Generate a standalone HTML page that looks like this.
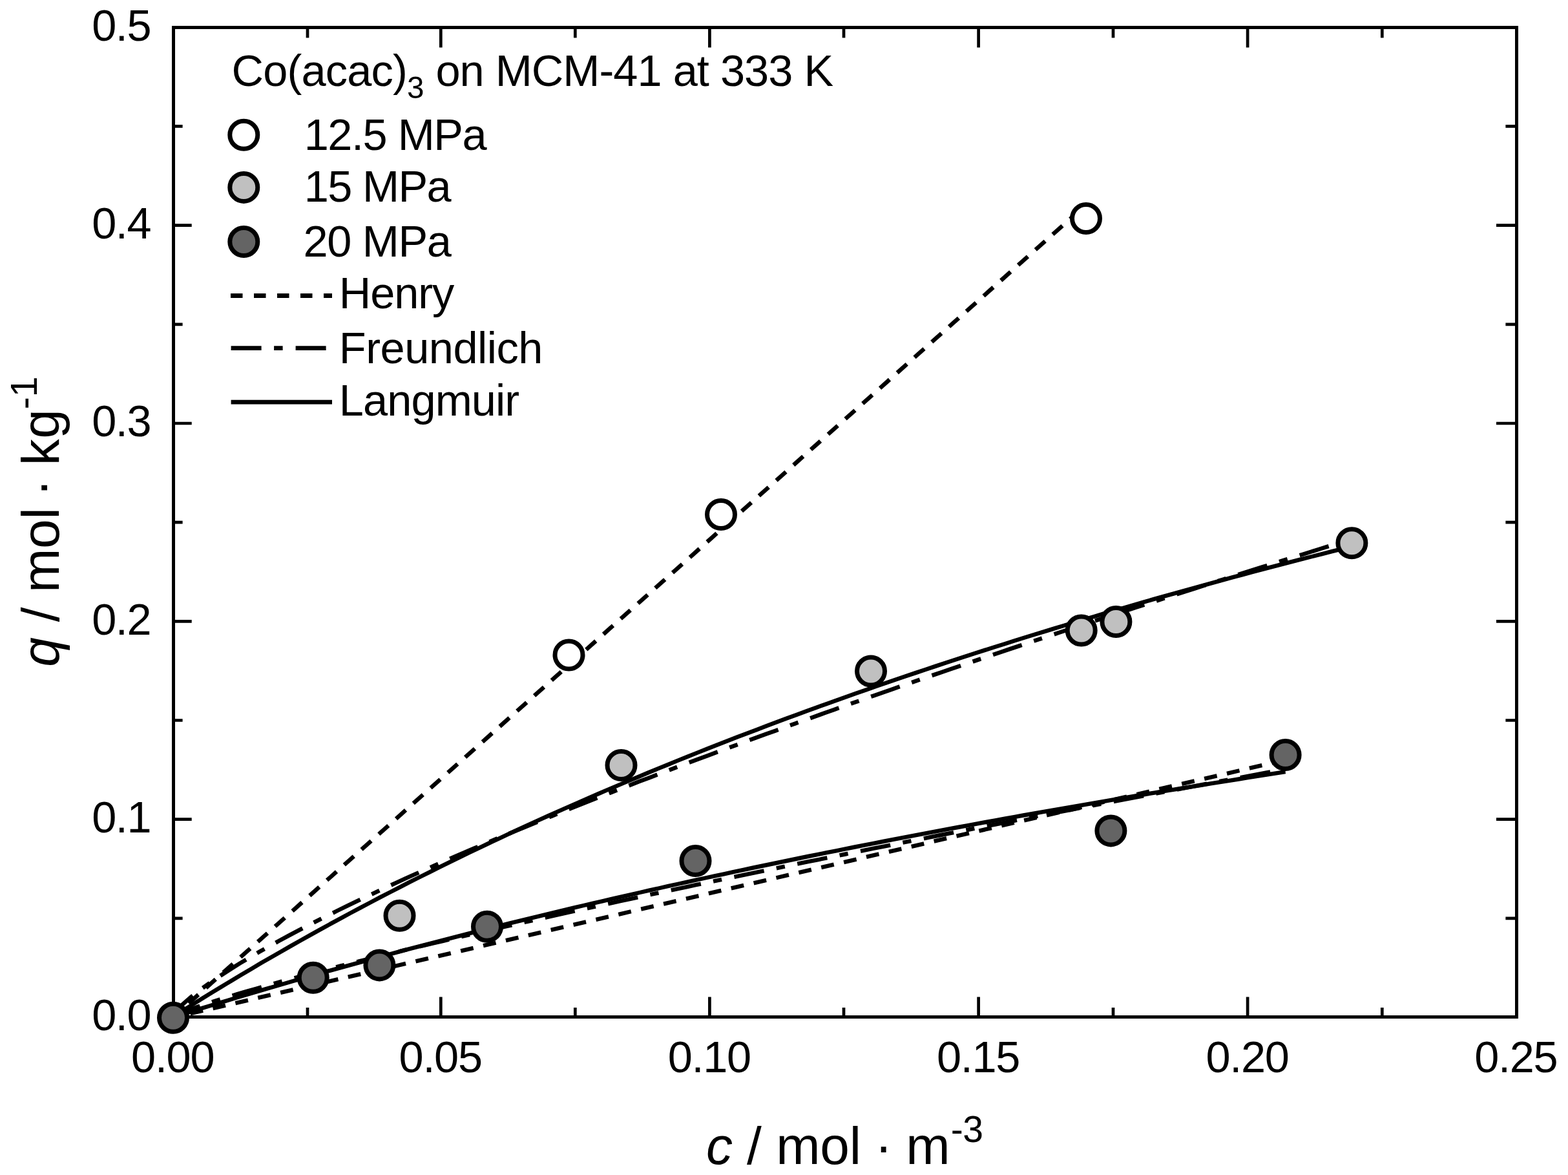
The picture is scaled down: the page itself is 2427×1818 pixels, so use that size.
<!DOCTYPE html>
<html><head><meta charset="utf-8"><title>Co(acac)3 adsorption isotherms on MCM-41</title><style>html,body{margin:0;padding:0;background:#fff;overflow:hidden}svg{display:block}</style></head><body>
<svg width="2427" height="1818" viewBox="0 0 2427 1818">
<rect x="0" y="0" width="2427" height="1818" fill="#fff"/>
<path d="M682.3 1573.5V1542.5 M682.3 42.5V73.5 M1098.4 1573.5V1542.5 M1098.4 42.5V73.5 M1514.6 1573.5V1542.5 M1514.6 42.5V73.5 M1931.1 1573.5V1542.5 M1931.1 42.5V73.5 M476.0 1573.5V1559.0 M476.0 42.5V58.4 M890.3 1573.5V1559.0 M890.3 42.5V58.4 M1306.0 1573.5V1559.0 M1306.0 42.5V58.4 M1723.0 1573.5V1559.0 M1723.0 42.5V58.4 M2139.3 1573.5V1559.0 M2139.3 42.5V58.4 M268.5 1267.7H296.7 M2347.5 1267.7H2316.0 M268.5 961.3H296.7 M2347.5 961.3H2316.0 M268.5 655.0H296.7 M2347.5 655.0H2316.0 M268.5 348.6H296.7 M2347.5 348.6H2316.0 M268.5 1420.8H282.6 M2347.5 1420.8H2330.4 M268.5 1114.5H282.6 M2347.5 1114.5H2330.4 M268.5 808.1H282.6 M2347.5 808.1H2330.4 M268.5 501.8H282.6 M2347.5 501.8H2330.4 M268.5 195.4H282.6 M2347.5 195.4H2330.4" stroke="#000" stroke-width="4.7" fill="none"/>
<g fill="none" stroke="#000" stroke-width="6.4" stroke-linejoin="round">
<line x1="266" y1="1575.5" x2="1681" y2="316.8" stroke-dasharray="20 15.8" stroke-dashoffset="0.9"/>
<polyline points="266.0,1574.5 281.3,1564.8 296.7,1555.1 312.0,1545.5 327.4,1536.1 342.7,1526.7 358.1,1517.4 373.4,1508.3 388.8,1499.2 404.1,1490.1 419.5,1481.2 434.8,1472.4 450.2,1463.6 465.5,1455.0 480.9,1446.4 496.2,1437.9 511.6,1429.4 526.9,1421.1 542.3,1412.8 557.6,1404.6 573.0,1396.5 588.3,1388.4 603.7,1380.5 619.0,1372.6 634.4,1364.7 649.7,1357.0 665.1,1349.3 680.4,1341.6 695.7,1334.1 711.1,1326.6 726.4,1319.2 741.8,1311.8 757.1,1304.5 772.5,1297.3 787.8,1290.1 803.2,1283.0 818.5,1275.9 833.9,1268.9 849.2,1262.0 864.6,1255.1 879.9,1248.3 895.3,1241.6 910.6,1234.9 926.0,1228.2 941.3,1221.6 956.7,1215.1 972.0,1208.6 987.4,1202.2 1002.7,1195.8 1018.1,1189.4 1033.4,1183.2 1048.8,1176.9 1064.1,1170.8 1079.4,1164.6 1094.8,1158.6 1110.1,1152.5 1125.5,1146.5 1140.8,1140.6 1156.2,1134.7 1171.5,1128.9 1186.9,1123.1 1202.2,1117.3 1217.6,1111.6 1232.9,1105.9 1248.3,1100.3 1263.6,1094.7 1279.0,1089.2 1294.3,1083.7 1309.7,1078.2 1325.0,1072.8 1340.4,1067.4 1355.7,1062.1 1371.1,1056.8 1386.4,1051.5 1401.8,1046.3 1417.1,1041.1 1432.5,1036.0 1447.8,1030.9 1463.2,1025.8 1478.5,1020.8 1493.8,1015.8 1509.2,1010.8 1524.5,1005.9 1539.9,1001.0 1555.2,996.2 1570.6,991.3 1585.9,986.5 1601.3,981.8 1616.6,977.1 1632.0,972.4 1647.3,967.7 1662.7,963.1 1678.0,958.5 1693.4,954.0 1708.7,949.4 1724.1,944.9 1739.4,940.5 1754.8,936.0 1770.1,931.6 1785.5,927.2 1800.8,922.9 1816.2,918.6 1831.5,914.3 1846.9,910.0 1862.2,905.8 1877.5,901.6 1892.9,897.4 1908.2,893.2 1923.6,889.1 1938.9,885.0 1954.3,880.9 1969.6,876.9 1985.0,872.9 2000.3,868.9 2015.7,864.9 2031.0,861.0 2046.4,857.1 2061.7,853.2 2077.1,849.3 2092.4,845.5"/>
<polyline points="266.0,1574.5 281.1,1555.4 296.2,1542.2 311.2,1530.4 326.3,1519.6 341.4,1509.5 356.5,1499.7 371.5,1490.4 386.6,1481.4 401.7,1472.6 416.8,1464.1 431.8,1455.8 446.9,1447.6 462.0,1439.6 477.1,1431.8 492.1,1424.1 507.2,1416.5 522.3,1409.0 537.4,1401.6 552.4,1394.4 567.5,1387.2 582.6,1380.1 597.7,1373.0 612.7,1366.1 627.8,1359.2 642.9,1352.4 658.0,1345.7 673.1,1339.0 688.1,1332.3 703.2,1325.8 718.3,1319.3 733.4,1312.8 748.4,1306.4 763.5,1300.0 778.6,1293.7 793.7,1287.4 808.7,1281.2 823.8,1275.0 838.9,1268.8 854.0,1262.7 869.0,1256.6 884.1,1250.6 899.2,1244.5 914.3,1238.6 929.3,1232.6 944.4,1226.7 959.5,1220.8 974.6,1215.0 989.6,1209.1 1004.7,1203.4 1019.8,1197.6 1034.9,1191.9 1049.9,1186.1 1065.0,1180.5 1080.1,1174.8 1095.2,1169.2 1110.3,1163.5 1125.3,1158.0 1140.4,1152.4 1155.5,1146.9 1170.6,1141.3 1185.6,1135.8 1200.7,1130.4 1215.8,1124.9 1230.9,1119.5 1245.9,1114.1 1261.0,1108.7 1276.1,1103.3 1291.2,1097.9 1306.2,1092.6 1321.3,1087.3 1336.4,1082.0 1351.5,1076.7 1366.5,1071.4 1381.6,1066.2 1396.7,1060.9 1411.8,1055.7 1426.8,1050.5 1441.9,1045.3 1457.0,1040.2 1472.1,1035.0 1487.2,1029.9 1502.2,1024.8 1517.3,1019.6 1532.4,1014.6 1547.5,1009.5 1562.5,1004.4 1577.6,999.4 1592.7,994.3 1607.8,989.3 1622.8,984.3 1637.9,979.3 1653.0,974.3 1668.1,969.3 1683.1,964.4 1698.2,959.4 1713.3,954.5 1728.4,949.6 1743.4,944.7 1758.5,939.8 1773.6,934.9 1788.7,930.0 1803.7,925.1 1818.8,920.3 1833.9,915.4 1849.0,910.6 1864.1,905.8 1879.1,901.0 1894.2,896.2 1909.3,891.4 1924.4,886.6 1939.4,881.9 1954.5,877.1 1969.6,872.4 1984.7,867.6 1999.7,862.9 2014.8,858.2 2029.9,853.5 2045.0,848.8 2060.0,844.1" stroke-dasharray="47.1 19.6 13.3 19.8"/>
<polyline points="266.0,1574.5 280.5,1569.9 295.0,1565.4 309.5,1560.9 323.9,1556.5 338.4,1552.1 352.9,1547.7 367.4,1543.3 381.9,1539.0 396.4,1534.7 410.8,1530.4 425.3,1526.2 439.8,1522.0 454.3,1517.8 468.8,1513.6 483.3,1509.5 497.7,1505.4 512.2,1501.3 526.7,1497.3 541.2,1493.3 555.7,1489.3 570.2,1485.3 584.7,1481.4 599.1,1477.5 613.6,1473.6 628.1,1469.7 642.6,1465.9 657.1,1462.1 671.6,1458.3 686.0,1454.6 700.5,1450.8 715.0,1447.1 729.5,1443.4 744.0,1439.8 758.5,1436.1 772.9,1432.5 787.4,1428.9 801.9,1425.4 816.4,1421.8 830.9,1418.3 845.4,1414.8 859.8,1411.3 874.3,1407.9 888.8,1404.4 903.3,1401.0 917.8,1397.6 932.3,1394.3 946.8,1390.9 961.2,1387.6 975.7,1384.3 990.2,1381.0 1004.7,1377.7 1019.2,1374.5 1033.7,1371.2 1048.1,1368.0 1062.6,1364.8 1077.1,1361.7 1091.6,1358.5 1106.1,1355.4 1120.6,1352.3 1135.0,1349.2 1149.5,1346.1 1164.0,1343.0 1178.5,1340.0 1193.0,1337.0 1207.5,1334.0 1222.0,1331.0 1236.4,1328.0 1250.9,1325.0 1265.4,1322.1 1279.9,1319.2 1294.4,1316.3 1308.9,1313.4 1323.3,1310.5 1337.8,1307.7 1352.3,1304.8 1366.8,1302.0 1381.3,1299.2 1395.8,1296.4 1410.2,1293.7 1424.7,1290.9 1439.2,1288.1 1453.7,1285.4 1468.2,1282.7 1482.7,1280.0 1497.1,1277.3 1511.6,1274.7 1526.1,1272.0 1540.6,1269.4 1555.1,1266.7 1569.6,1264.1 1584.1,1261.5 1598.5,1259.0 1613.0,1256.4 1627.5,1253.8 1642.0,1251.3 1656.5,1248.8 1671.0,1246.3 1685.4,1243.8 1699.9,1241.3 1714.4,1238.8 1728.9,1236.3 1743.4,1233.9 1757.9,1231.5 1772.3,1229.0 1786.8,1226.6 1801.3,1224.2 1815.8,1221.8 1830.3,1219.5 1844.8,1217.1 1859.3,1214.8 1873.7,1212.4 1888.2,1210.1 1902.7,1207.8 1917.2,1205.5 1931.7,1203.2 1946.2,1200.9 1960.6,1198.7 1975.1,1196.4 1989.6,1194.2"/>
<polyline points="266.0,1574.5 280.5,1567.3 295.0,1561.7 309.5,1556.5 323.9,1551.7 338.4,1547.0 352.9,1542.5 367.4,1538.1 381.9,1533.9 396.4,1529.7 410.8,1525.6 425.3,1521.5 439.8,1517.5 454.3,1513.6 468.8,1509.7 483.3,1505.9 497.7,1502.1 512.2,1498.4 526.7,1494.7 541.2,1491.0 555.7,1487.4 570.2,1483.8 584.7,1480.2 599.1,1476.6 613.6,1473.1 628.1,1469.6 642.6,1466.1 657.1,1462.6 671.6,1459.2 686.0,1455.8 700.5,1452.4 715.0,1449.0 729.5,1445.7 744.0,1442.3 758.5,1439.0 772.9,1435.7 787.4,1432.4 801.9,1429.1 816.4,1425.8 830.9,1422.6 845.4,1419.4 859.8,1416.1 874.3,1412.9 888.8,1409.7 903.3,1406.6 917.8,1403.4 932.3,1400.2 946.8,1397.1 961.2,1393.9 975.7,1390.8 990.2,1387.7 1004.7,1384.6 1019.2,1381.5 1033.7,1378.4 1048.1,1375.3 1062.6,1372.3 1077.1,1369.2 1091.6,1366.2 1106.1,1363.1 1120.6,1360.1 1135.0,1357.1 1149.5,1354.1 1164.0,1351.1 1178.5,1348.1 1193.0,1345.1 1207.5,1342.1 1222.0,1339.1 1236.4,1336.2 1250.9,1333.2 1265.4,1330.3 1279.9,1327.3 1294.4,1324.4 1308.9,1321.5 1323.3,1318.5 1337.8,1315.6 1352.3,1312.7 1366.8,1309.8 1381.3,1306.9 1395.8,1304.0 1410.2,1301.2 1424.7,1298.3 1439.2,1295.4 1453.7,1292.5 1468.2,1289.7 1482.7,1286.8 1497.1,1284.0 1511.6,1281.1 1526.1,1278.3 1540.6,1275.5 1555.1,1272.6 1569.6,1269.8 1584.1,1267.0 1598.5,1264.2 1613.0,1261.4 1627.5,1258.6 1642.0,1255.8 1656.5,1253.0 1671.0,1250.2 1685.4,1247.4 1699.9,1244.7 1714.4,1241.9 1728.9,1239.1 1743.4,1236.4 1757.9,1233.6 1772.3,1230.9 1786.8,1228.1 1801.3,1225.4 1815.8,1222.6 1830.3,1219.9 1844.8,1217.2 1859.3,1214.4 1873.7,1211.7 1888.2,1209.0 1902.7,1206.3 1917.2,1203.6 1931.7,1200.9 1946.2,1198.2 1960.6,1195.5 1975.1,1192.8 1989.6,1190.1" stroke-dasharray="47.1 19.6 13.3 19.8"/>
<line x1="266" y1="1574.8" x2="1990" y2="1175.7" stroke-dasharray="20 15.8" stroke-dashoffset="6.4"/>
</g>
<rect x="268.5" y="42.5" width="2079.0" height="1531.0" fill="none" stroke="#000" stroke-width="5"/>
<circle cx="268.0" cy="1574.7" r="21.5" fill="#646464" stroke="#000" stroke-width="7.0"/>
<circle cx="484.7" cy="1512.7" r="21.5" fill="#646464" stroke="#000" stroke-width="7.0"/>
<circle cx="587.4" cy="1493.4" r="21.5" fill="#646464" stroke="#000" stroke-width="7.0"/>
<circle cx="754.0" cy="1433.7" r="21.5" fill="#646464" stroke="#000" stroke-width="7.0"/>
<circle cx="1076.5" cy="1332.0" r="21.5" fill="#646464" stroke="#000" stroke-width="7.0"/>
<circle cx="1719.4" cy="1285.4" r="21.5" fill="#646464" stroke="#000" stroke-width="7.0"/>
<circle cx="1989.6" cy="1168.0" r="21.5" fill="#646464" stroke="#000" stroke-width="7.0"/>
<circle cx="618.5" cy="1416.8" r="21.5" fill="#c0c0c0" stroke="#000" stroke-width="7.0"/>
<circle cx="961.5" cy="1184.0" r="21.5" fill="#c0c0c0" stroke="#000" stroke-width="7.0"/>
<circle cx="1348.0" cy="1038.5" r="21.5" fill="#c0c0c0" stroke="#000" stroke-width="7.0"/>
<circle cx="1673.7" cy="975.5" r="21.5" fill="#c0c0c0" stroke="#000" stroke-width="7.0"/>
<circle cx="1727.4" cy="962.0" r="21.5" fill="#c0c0c0" stroke="#000" stroke-width="7.0"/>
<circle cx="2092.4" cy="840.3" r="21.5" fill="#c0c0c0" stroke="#000" stroke-width="7.0"/>
<circle cx="880.5" cy="1013.5" r="21.5" fill="#ffffff" stroke="#000" stroke-width="7.0"/>
<circle cx="1116.0" cy="796.0" r="21.5" fill="#ffffff" stroke="#000" stroke-width="7.0"/>
<circle cx="1681.0" cy="338.0" r="21.5" fill="#ffffff" stroke="#000" stroke-width="7.0"/>
<g font-family="'Liberation Sans', Arial, Helvetica, sans-serif" fill="#000">
<text x="234.6" y="1594.3" font-size="68.5" text-anchor="end" textLength="92.44" lengthAdjust="spacing">0.0</text>
<text x="234.6" y="1288.0" font-size="68.5" text-anchor="end" textLength="92.44" lengthAdjust="spacing">0.1</text>
<text x="234.6" y="981.6" font-size="68.5" text-anchor="end" textLength="92.44" lengthAdjust="spacing">0.2</text>
<text x="234.6" y="675.2" font-size="68.5" text-anchor="end" textLength="92.44" lengthAdjust="spacing">0.3</text>
<text x="234.6" y="368.9" font-size="68.5" text-anchor="end" textLength="92.44" lengthAdjust="spacing">0.4</text>
<text x="234.6" y="62.5" font-size="68.5" text-anchor="end" textLength="92.44" lengthAdjust="spacing">0.5</text>
<text x="267.8" y="1659" font-size="68.5" text-anchor="middle" textLength="129.43" lengthAdjust="spacing">0.00</text>
<text x="682.3" y="1659" font-size="68.5" text-anchor="middle" textLength="129.43" lengthAdjust="spacing">0.05</text>
<text x="1098.4" y="1659" font-size="68.5" text-anchor="middle" textLength="129.43" lengthAdjust="spacing">0.10</text>
<text x="1514.6" y="1659" font-size="68.5" text-anchor="middle" textLength="129.43" lengthAdjust="spacing">0.15</text>
<text x="1931.1" y="1659" font-size="68.5" text-anchor="middle" textLength="129.43" lengthAdjust="spacing">0.20</text>
<text x="2347.0" y="1659" font-size="68.5" text-anchor="middle" textLength="129.43" lengthAdjust="spacing">0.25</text>
<text x="1093.12" y="1800.50" font-size="82.00" font-style="italic">c</text>
<text x="1156.00" y="1800.50" font-size="82.00" textLength="176.99" lengthAdjust="spacing">/ mol</text>
<text x="1354.07" y="1800.50" font-size="82.00">·</text>
<text x="1402.15" y="1800.50" font-size="82.00">m</text>
<text x="1471.67" y="1766.60" font-size="57.00" textLength="50.34" lengthAdjust="spacing">-3</text>
<g transform="translate(91.0,0) rotate(-90)">
<text x="-1031.76" y="0.00" font-size="82.00" font-style="italic">q</text>
<text x="-962.20" y="0.00" font-size="82.00" textLength="176.89" lengthAdjust="spacing">/ mol</text>
<text x="-768.23" y="0.00" font-size="82.00">·</text>
<text x="-720.13" y="0.00" font-size="82.00" textLength="87.11" lengthAdjust="spacing">kg</text>
<text x="-633.33" y="-33.70" font-size="57.00">-1</text>
</g>
<text x="358.52" y="133.00" font-size="68.50" textLength="272.33" lengthAdjust="spacing">Co(acac)</text>
<text x="629.89" y="152.00" font-size="47.50" textLength="25.40" lengthAdjust="spacing">3</text>
<text x="674.42" y="133.00" font-size="68.50" textLength="615.75" lengthAdjust="spacing">on MCM-41 at 333 K</text>
<text x="470.68" y="231.50" font-size="68.50" textLength="283.02" lengthAdjust="spacing">12.5 MPa</text>
<text x="470.68" y="312.30" font-size="68.50" textLength="228.02" lengthAdjust="spacing">15 MPa</text>
<text x="469.55" y="396.50" font-size="68.50" textLength="229.35" lengthAdjust="spacing">20 MPa</text>
<text x="524.78" y="477.10" font-size="68.50" textLength="178.55" lengthAdjust="spacing">Henry</text>
<text x="524.78" y="561.70" font-size="68.50" textLength="315.67" lengthAdjust="spacing">Freundlich</text>
<text x="524.78" y="642.60" font-size="68.50" textLength="279.36" lengthAdjust="spacing">Langmuir</text>
</g>
<circle cx="377.3" cy="208.8" r="21.5" fill="#fff" stroke="#000" stroke-width="7"/>
<circle cx="377.3" cy="289.9" r="21.5" fill="#c0c0c0" stroke="#000" stroke-width="7"/>
<circle cx="377.3" cy="374" r="21.5" fill="#646464" stroke="#000" stroke-width="7"/>
<g stroke="#000" stroke-width="6.8" fill="none">
<line x1="357" y1="457.5" x2="514" y2="457.5" stroke-dasharray="18.5 17.5"/>
<line x1="357.6" y1="538.7" x2="514" y2="538.7" stroke-dasharray="47 19.5 13.5 20"/>
<line x1="357.6" y1="622.1" x2="514" y2="622.1"/>
</g>
</svg></body></html>
